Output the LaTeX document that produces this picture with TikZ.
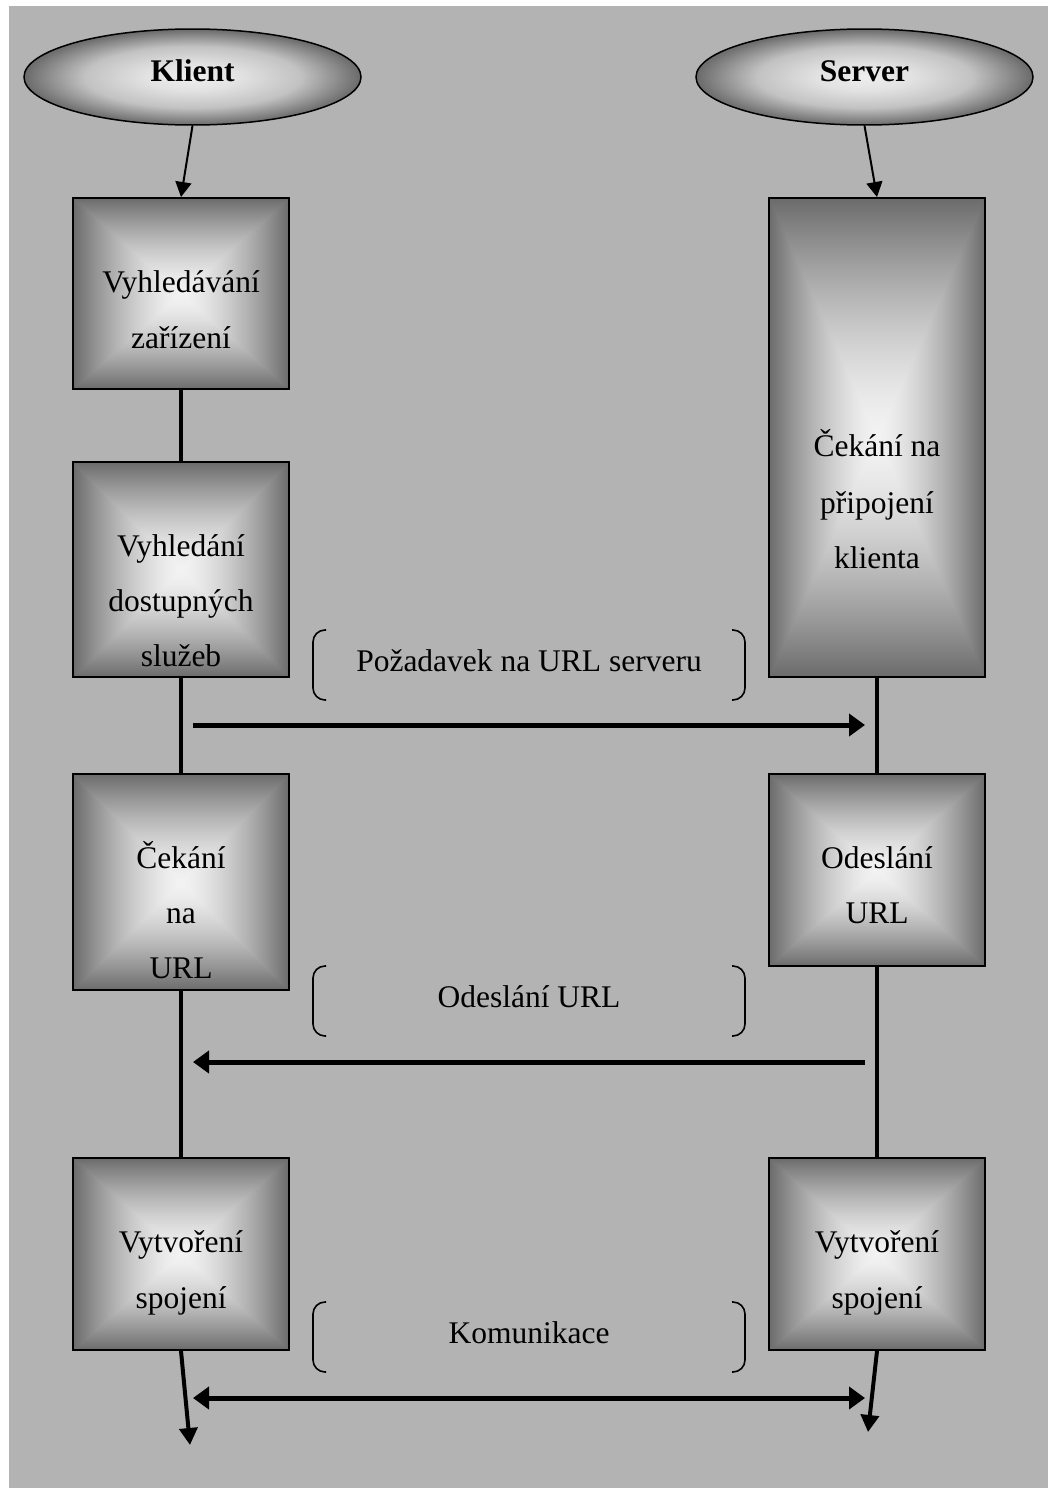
\documentclass[tikz,border=0pt]{standalone}
\usepackage{fontspec}
\setmainfont{Liberation Serif}
\usetikzlibrary{arrows.meta,shapes.geometric}
\definecolor{bggray}{HTML}{B3B3B3}
\definecolor{elin}{HTML}{EEEEEE}
\definecolor{elmid}{HTML}{E2E2E2}
\definecolor{elmid2}{HTML}{C2C2C2}
\definecolor{elout}{HTML}{6A6A6A}
\pgfdeclarefunctionalshading{pyr}{\pgfpoint{0bp}{0bp}}{\pgfpoint{100bp}{100bp}}{}{
  50 sub abs exch 50 sub abs 2 copy lt {exch} if pop
  25 div dup 1 gt {pop 1} if
  dup sqrt mul -0.53 mul 0.95 add dup dup
}
\pgfdeclareradialshading{ellsh}{\pgfpoint{0bp}{0bp}}{color(0bp)=(elin); color(7bp)=(elmid); color(16bp)=(elmid2); color(25bp)=(elout); color(50bp)=(elout)}
\tikzset{
  box/.style={draw, line width=1pt, shade, shading=pyr, minimum width=108pt, inner sep=0pt},
  ell/.style={ellipse, draw, line width=0.75pt, shade, shading=ellsh,
    minimum width=168.5pt, minimum height=48pt, inner sep=0pt,
    font=\fontsize{15.75}{18}\selectfont\bfseries, text height=10.4pt, text depth=6pt},
  txt/.style={anchor=base, inner sep=0pt, font=\fontsize{15.75}{18}\selectfont},
  life/.style={line width=2pt},
  thinarr/.style={line width=1pt, -{Triangle[length=7.5pt,width=8pt]}},
  endarr/.style={line width=2pt, -{Triangle[length=8.5pt,width=9pt]}},
  msgarr/.style={line width=2.5pt, -{Triangle[length=8pt,width=11pt]}},
  brk/.style={line width=0.8pt, rounded corners=6pt},
}
\begin{document}
\begin{tikzpicture}[x=0.5pt,y=-0.5pt]
\fill[white] (0,0) rectangle (1048,1488);
\fill[bggray] (9,6) rectangle (1048,1488);
\useasboundingbox (0,0) rectangle (1048,1488);

% ellipses
\node[ell] (K) at (192.5,77) {Klient};
\node[ell] (S) at (864.5,77) {Server};

% left boxes
\node[box, minimum height=95.5pt] (L1) at (181,293.5) {};
\node[box, minimum height=107.5pt] (L2) at (181,569.5) {};
\node[box, minimum height=108pt] (L3) at (181,882) {};
\node[box, minimum height=96pt] (L4) at (181,1254) {};
% right boxes
\node[box, minimum height=239.5pt] (R1) at (877,437.5) {};
\node[box, minimum height=96pt] (R2) at (877,870) {};
\node[box, minimum height=96pt] (R3) at (877,1254) {};

% box texts
\node[txt] (L1a) at (181,292) {Vyhledávání};
\node[txt] (L1b) at (181,348) {zařízení};
\node[txt] (L2a) at (181,556) {Vyhledání};
\node[txt] (L2b) at (181,611) {dostupných};
\node[txt] (L2c) at (181,666) {služeb};
\node[txt] (L3a) at (181,868) {Čekání};
\node[txt] (L3b) at (181,923) {na};
\node[txt] (L3c) at (181,978) {URL};
\node[txt] (L4a) at (181,1252) {Vytvoření};
\node[txt] (L4b) at (181,1308) {spojení};
\node[txt] (R1a) at (877,456) {Čekání na};
\node[txt] (R1b) at (877,513) {připojení};
\node[txt] (R1c) at (877,568) {klienta};
\node[txt] (R2a) at (877,868) {Odeslání};
\node[txt] (R2b) at (877,923) {URL};
\node[txt] (R3a) at (877,1252) {Vytvoření};
\node[txt] (R3b) at (877,1308) {spojení};

% message labels
\node[txt] (M1) at (529,671) {Požadavek na URL serveru};
\node[txt] (M2) at (529,1007) {Odeslání URL};
\node[txt] (M3) at (529,1343) {Komunikace};

% brackets
\foreach \t/\b in {630/700, 966/1036, 1302/1372}{
  \draw[brk] (326,\t) -- (313,\t) -- (313,\b) -- (326,\b);
  \draw[brk] (732,\t) -- (745,\t) -- (745,\b) -- (732,\b);
}

% arrows from ellipses
\draw[thinarr] (K.south) -- (L1.north);
\draw[thinarr] (S.south) -- (R1.north);

% lifelines
\draw[life] (L1.south) -- (L2.north);
\draw[life] (L2.south) -- (L3.north);
\draw[life] (L3.south) -- (L4.north);
\draw[life] (R1.south) -- (R2.north);
\draw[life] (R2.south) -- (R3.north);
\coordinate (Lend) at (190,1445);
\coordinate (Rend) at (868,1432);
\draw[endarr] (L4.south) -- (Lend);
\draw[endarr] (R3.south) -- (Rend);

% messages
\coordinate (A1s) at (193,725);
\coordinate (A1e) at (865,725);
\coordinate (A2s) at (865,1062);
\coordinate (A2e) at (193,1062);
\coordinate (A3s) at (193,1398);
\coordinate (A3e) at (865,1398);
\draw[msgarr] (A1s) -- (A1e);
\draw[msgarr] (A2s) -- (A2e);
\draw[msgarr, {Triangle[length=8pt,width=11pt]}-{Triangle[length=8pt,width=11pt]}] (A3s) -- (A3e);
\end{tikzpicture}
\end{document}
